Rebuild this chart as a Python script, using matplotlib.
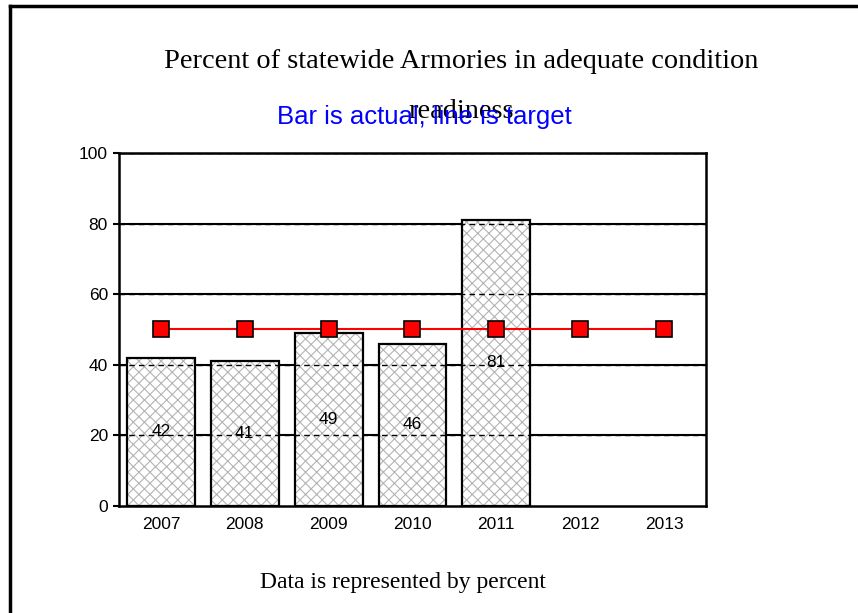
import matplotlib.pyplot as plt
from matplotlib.lines import Line2D

years = ["2007", "2008", "2009", "2010", "2011", "2012", "2013"]
actual = [42, 41, 49, 46, 81]
target = [50, 50, 50, 50, 50, 50, 50]
y_ticks = [0, 20, 40, 60, 80, 100]

plt.rcParams["hatch.linewidth"] = 0.8

fig = plt.figure(figsize=(8.58, 6.13), dpi=100)
ax = fig.add_axes([0.1387, 0.1746, 0.6841, 0.5759])

x_all = list(range(len(years)))
x_bar = x_all[:len(actual)]

# gridlines: solid outside bars, dashed where they pass through the bars
for y in y_ticks[1:]:
    ax.axhline(y, color="black", linewidth=1.5, zorder=1)
    ax.axhline(y, color="black", linewidth=1.0, linestyle=(0, (4, 3)), zorder=3)

# hatched fill (grey hatch), then black outline on top
ax.bar(x_bar, actual, width=0.81, facecolor="white", edgecolor="#b4b4b4",
       linewidth=0, hatch="xxx", zorder=2)
ax.bar(x_bar, actual, width=0.81, facecolor="none", edgecolor="black",
       linewidth=1.6, zorder=4)

for xi, v in zip(x_bar, actual):
    ax.text(xi, v / 2, str(v), ha="center", va="center", fontsize=12.5,
            family="Liberation Sans", zorder=5)

ax.plot(x_all, target, color="red", linewidth=1.5, marker="s", markersize=11,
        markerfacecolor="red", markeredgecolor="black", markeredgewidth=1.2, zorder=6)

ax.set_xlim(-0.5, len(years) - 0.5)
ax.set_ylim(0, 100)
ax.set_yticks(y_ticks)
ax.set_xticks(x_all)
ax.set_xticklabels(years)
ax.tick_params(axis="x", length=0, pad=8, labelsize=12.5)
ax.tick_params(axis="y", length=4, width=1.5, labelsize=12.5, pad=4)
for lab in ax.get_xticklabels() + ax.get_yticklabels():
    lab.set_family("Liberation Sans")
for s in ax.spines.values():
    s.set_linewidth(1.8)

fig.text(0.538, 0.899, "Percent of statewide Armories in adequate condition",
         ha="center", va="center", fontsize=20.4, family="Liberation Serif")
fig.text(0.538, 0.818, "readiness", ha="center", va="center", fontsize=20.4,
         family="Liberation Serif")
fig.text(0.495, 0.809, "Bar is actual, line is target", ha="center", va="center",
         fontsize=18.5, color="blue", family="Liberation Sans")
fig.text(0.470, 0.049, "Data is represented by percent", ha="center", va="center",
         fontsize=17, family="Liberation Serif")

# outer slide frame
fig.add_artist(Line2D([0.0117, 0.0117], [0.0, 0.990], color="black", linewidth=2.5,
                      transform=fig.transFigure))
fig.add_artist(Line2D([0.0117, 1.0], [0.990, 0.990], color="black", linewidth=2.5,
                      transform=fig.transFigure))

fig.savefig("out.png", dpi=100, facecolor="white")
